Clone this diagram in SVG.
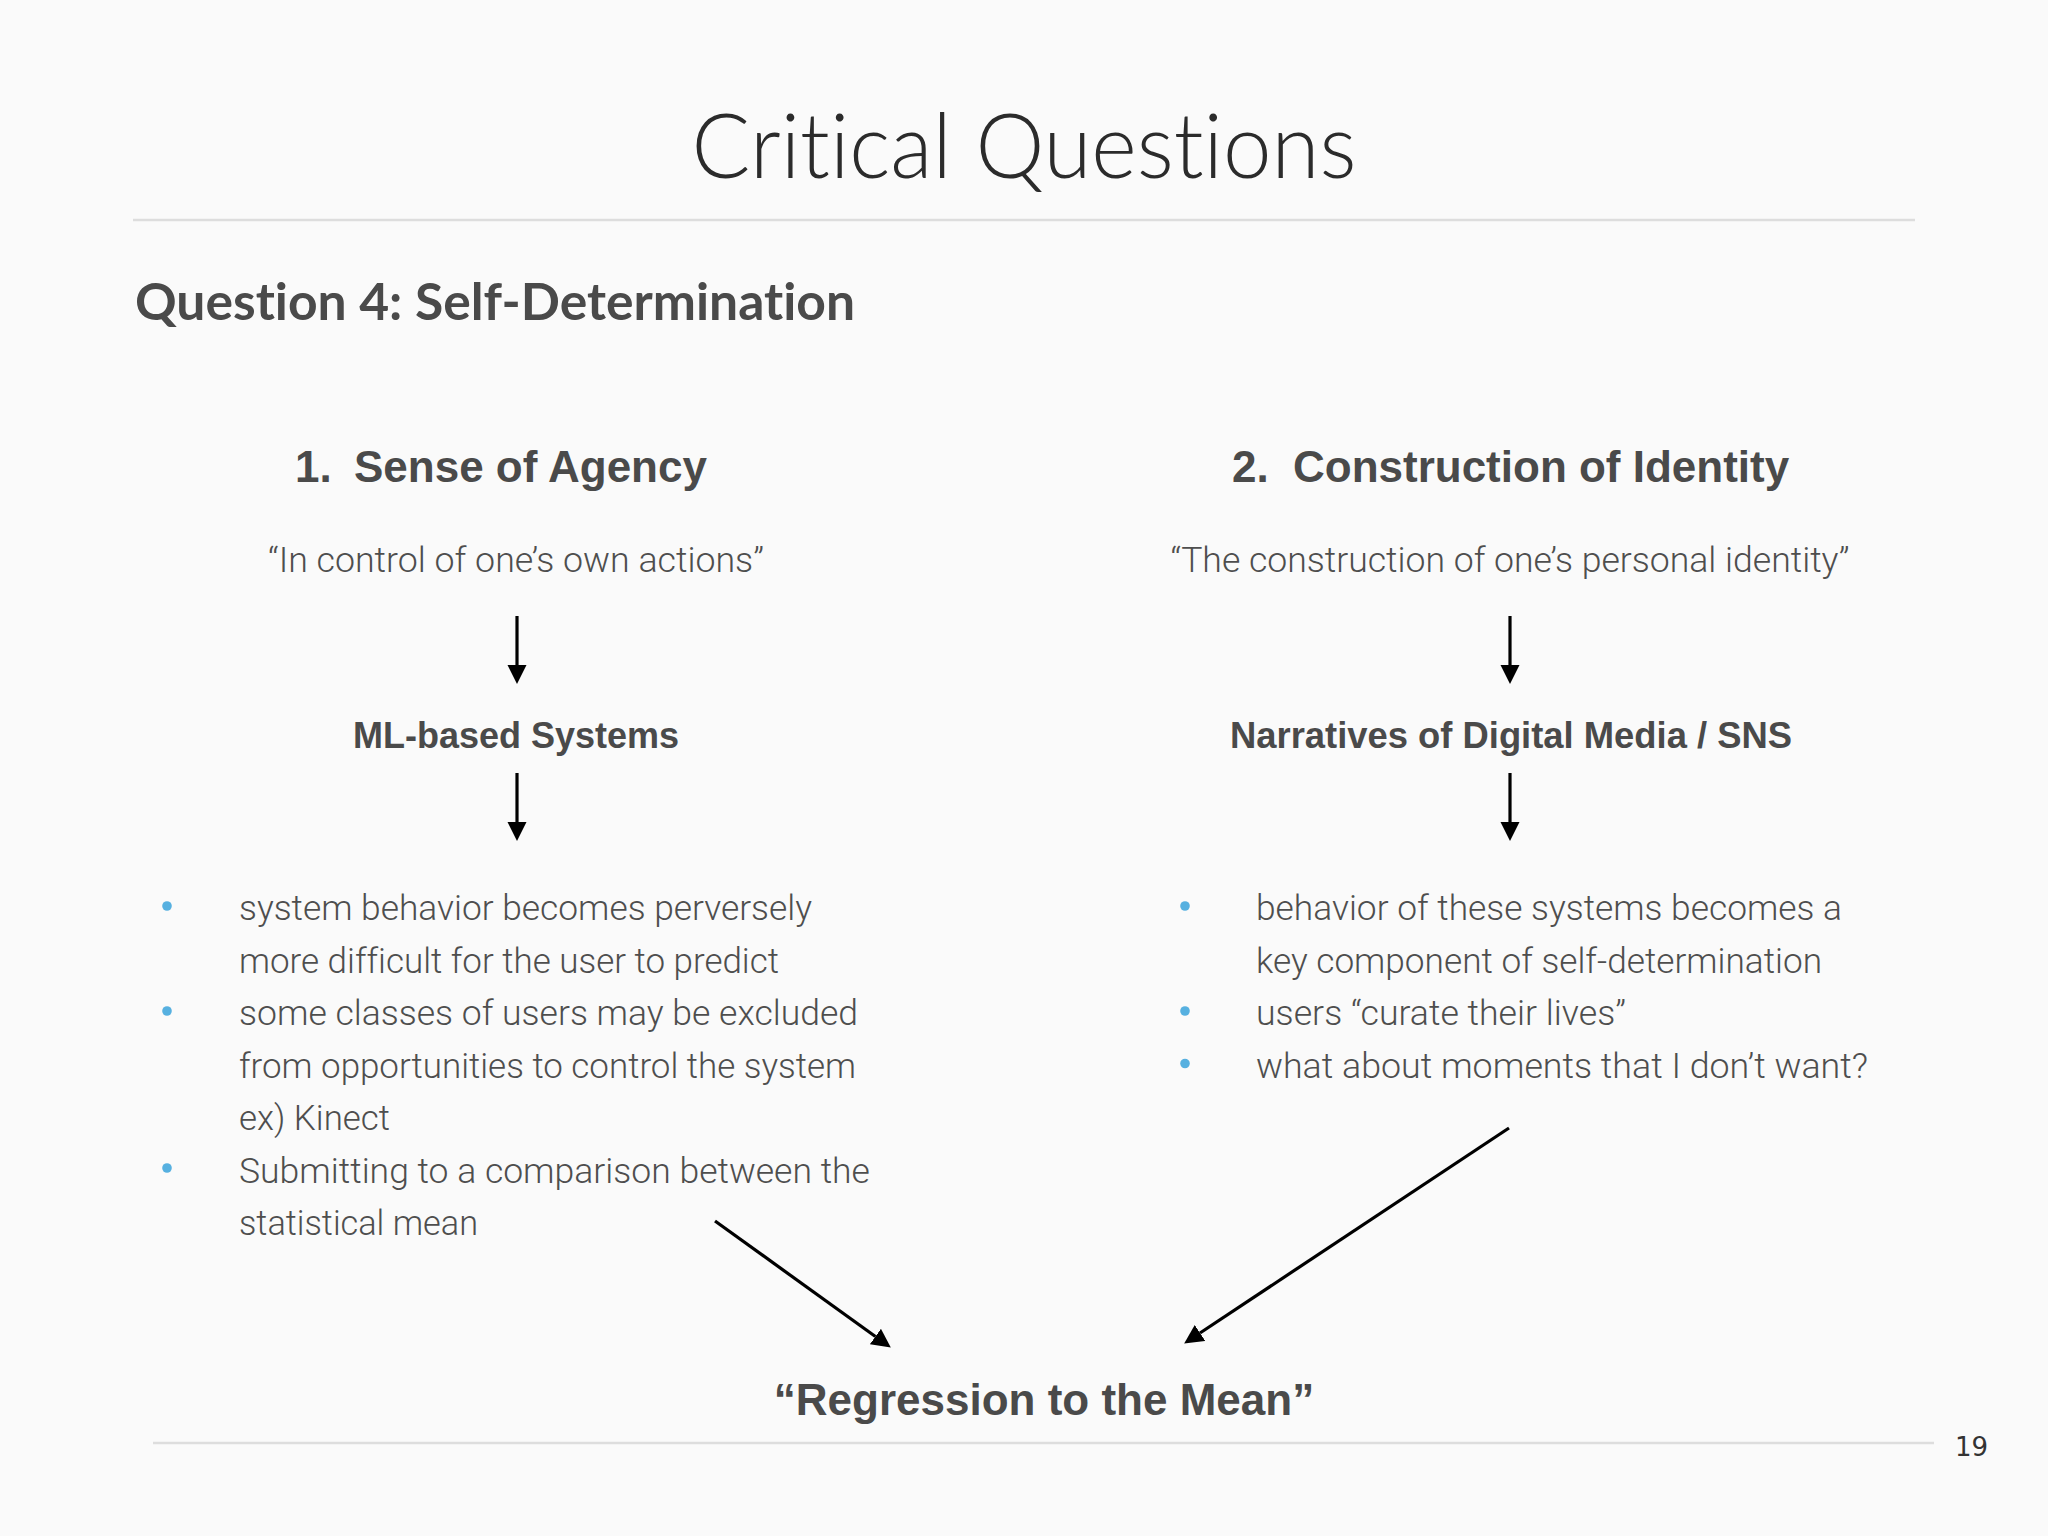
<svg xmlns="http://www.w3.org/2000/svg" width="2048" height="1536" viewBox="0 0 2048 1536">
  <style>
    text { font-variant-ligatures: none; font-feature-settings: "liga" 0, "clig" 0; }
    .title { font-family: Lato, "Open Sans", sans-serif; font-weight: 300; font-size: 90px; fill: #2b2b2b; }
    .qhead { font-family: Lato, "Liberation Sans", sans-serif; font-weight: 700; font-size: 51px; fill: #4a4a4a; }
    .head { font-family: "Liberation Sans", Arial, sans-serif; font-weight: 700; font-size: 44px; fill: #4a4a4a; }
    .sub { font-family: "Liberation Sans", Arial, sans-serif; font-weight: 700; font-size: 36px; fill: #4a4a4a; }
    .light { font-family: Roboto, "Liberation Sans", sans-serif; font-weight: 300; font-size: 35px; fill: #4e4e4e; }
    .rule { stroke: #dddddd; stroke-width: 2.5; }
    .bullet { fill: #56b0e0; }
    .conn { stroke: #000; stroke-width: 3.2; fill: none; marker-end: url(#arrow); }
    .pnum { font-family: "DejaVu Sans", sans-serif; font-size: 26px; fill: #333; }
  </style>
  <defs>
    <marker id="arrow" markerUnits="userSpaceOnUse" markerWidth="20" markerHeight="20" refX="0" refY="9.5" orient="auto" viewBox="0 0 20 19">
      <path d="M0,0 L19,9.5 L0,19 Z" fill="#000"/>
    </marker>
  </defs>
  <rect width="2048" height="1536" fill="#fafafa"/>

  <g id="header">
    <text class="title" x="1024" y="178" text-anchor="middle" textLength="665" lengthAdjust="spacingAndGlyphs">Critical Questions</text>
    <line class="rule" x1="133" y1="220" x2="1915" y2="220"/>
    <text class="qhead" x="135" y="320" textLength="720" lengthAdjust="spacingAndGlyphs">Question 4: Self-Determination</text>
  </g>

  <g id="agency-heading">
    <text class="head" y="482"><tspan x="295">1.</tspan><tspan x="354">Sense of Agency</tspan></text>
  </g>
  <g id="identity-heading">
    <text class="head" y="482"><tspan x="1232">2.</tspan><tspan x="1293">Construction of Identity</tspan></text>
  </g>

  <g id="agency-quote">
    <text class="light" x="516" y="572" text-anchor="middle" textLength="496" lengthAdjust="spacingAndGlyphs">“In control of one’s own actions”</text>
  </g>
  <g id="identity-quote">
    <text class="light" x="1510" y="572" text-anchor="middle" textLength="679" lengthAdjust="spacingAndGlyphs">“The construction of one’s personal identity”</text>
  </g>

  <g id="ml-systems">
    <text class="sub" x="516" y="748" text-anchor="middle">ML-based Systems</text>
  </g>
  <g id="narratives">
    <text class="sub" x="1511" y="748" text-anchor="middle" textLength="562" lengthAdjust="spacingAndGlyphs">Narratives of Digital Media / SNS</text>
  </g>

  <g id="agency-bullets">
    <circle class="bullet" cx="167" cy="906" r="4.8"/>
    <circle class="bullet" cx="167" cy="1011" r="4.8"/>
    <circle class="bullet" cx="167" cy="1168" r="4.8"/>
    <text class="light" x="239" y="920" textLength="573" lengthAdjust="spacingAndGlyphs">system behavior becomes perversely</text>
    <text class="light" x="239" y="972.5" textLength="540" lengthAdjust="spacingAndGlyphs">more difficult for the user to predict</text>
    <text class="light" x="239" y="1025" textLength="619" lengthAdjust="spacingAndGlyphs">some classes of users may be excluded</text>
    <text class="light" x="239" y="1077.5" textLength="617" lengthAdjust="spacingAndGlyphs">from opportunities to control the system</text>
    <text class="light" x="239" y="1130" textLength="151" lengthAdjust="spacingAndGlyphs">ex) Kinect</text>
    <text class="light" x="239" y="1182.5" textLength="631" lengthAdjust="spacingAndGlyphs">Submitting to a comparison between the</text>
    <text class="light" x="239" y="1235" textLength="239" lengthAdjust="spacingAndGlyphs">statistical mean</text>
  </g>

  <g id="identity-bullets">
    <circle class="bullet" cx="1185" cy="906" r="4.8"/>
    <circle class="bullet" cx="1185" cy="1011" r="4.8"/>
    <circle class="bullet" cx="1185" cy="1063.5" r="4.8"/>
    <text class="light" x="1256" y="920" textLength="586" lengthAdjust="spacingAndGlyphs">behavior of these systems becomes a</text>
    <text class="light" x="1256" y="972.5" textLength="566" lengthAdjust="spacingAndGlyphs">key component of self-determination</text>
    <text class="light" x="1256" y="1025" textLength="370" lengthAdjust="spacingAndGlyphs">users “curate their lives”</text>
    <text class="light" x="1256" y="1077.5" textLength="612" lengthAdjust="spacingAndGlyphs">what about moments that I don’t want?</text>
  </g>

  <g id="regression">
    <text class="head" x="1044" y="1415" text-anchor="middle">“Regression to the Mean”</text>
  </g>

  <g id="connectors">
    <line class="conn" x1="517" y1="616" x2="517" y2="665"/>
    <line class="conn" x1="1510" y1="616" x2="1510" y2="665"/>
    <line class="conn" x1="517" y1="773" x2="517" y2="822"/>
    <line class="conn" x1="1510" y1="773" x2="1510" y2="822"/>
    <line class="conn" x1="715" y1="1221" x2="875.4" y2="1336.5"/>
    <line class="conn" x1="1509" y1="1128" x2="1200" y2="1333"/>
  </g>

  <g id="footer">
    <line class="rule" x1="153" y1="1443" x2="1934" y2="1443"/>
    <text class="pnum" x="1955" y="1456">19</text>
  </g>
</svg>
